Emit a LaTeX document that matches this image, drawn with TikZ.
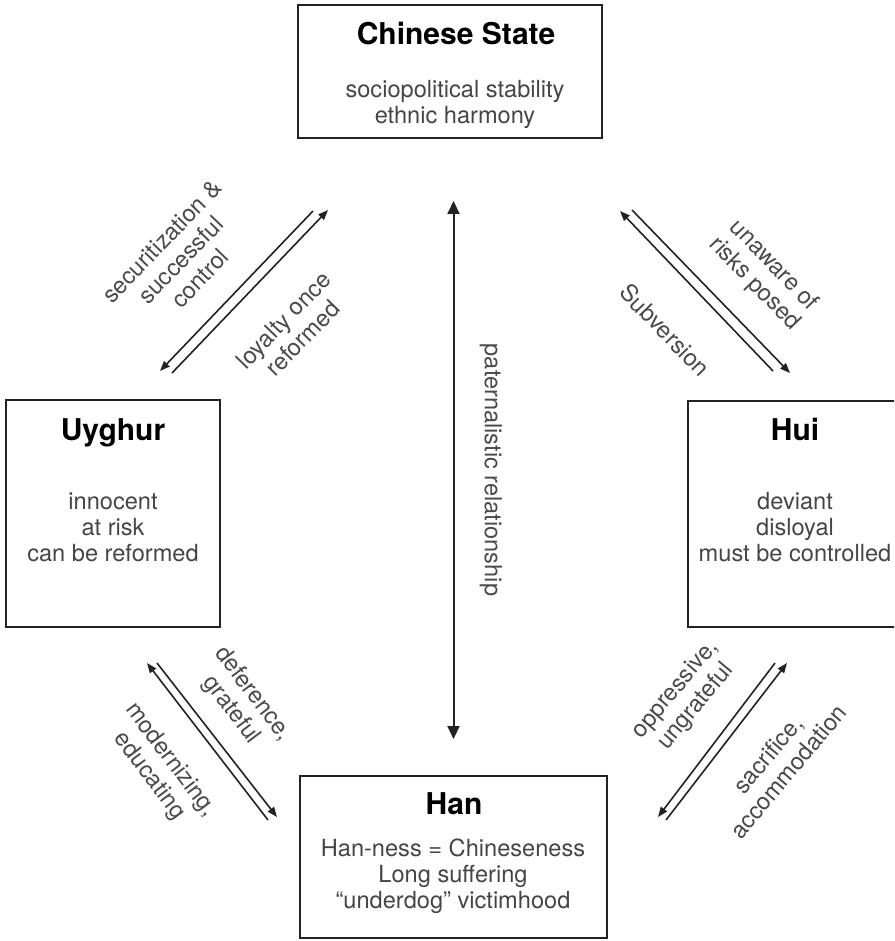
\documentclass[tikz,border=0pt]{standalone}
\usepackage{fontspec}
\setmainfont{TeX Gyre Heros}
\usetikzlibrary{arrows.meta}
\definecolor{ink}{HTML}{222222}
\definecolor{bodytxt}{HTML}{454545}
\definecolor{lbltxt}{HTML}{4a4a4a}
\begin{document}
\begin{tikzpicture}[x=0.5pt,y=-0.5pt,
  boxshape/.style={draw=ink, line width=1pt, inner sep=0pt},
  titletxt/.style={anchor=base, inner sep=0pt, text=black, font=\fontsize{15}{18}\selectfont\bfseries},
  bodyblock/.style={align=center, inner sep=0pt, text=bodytxt, font=\fontsize{11.8}{13}\selectfont},
  lbl/.style={align=center, inner sep=0pt, text=lbltxt, font=\fontsize{11.8}{13.3}\selectfont},
  diag/.style={draw=ink, line width=0.8pt, -{Triangle[length=5pt,width=3.8pt]}},
  vert/.style={draw=ink, line width=1pt, {Triangle[length=6.5pt,width=6pt]}-{Triangle[length=6.5pt,width=6pt]}}
]
\useasboundingbox (0,0) rectangle (894,941);
\clip (0,0) rectangle (894,941);

% boxes
\node[boxshape, minimum width=152pt, minimum height=66.5pt] (state) at (450,71.5) {};
\node[boxshape, minimum width=153.5pt, minimum height=81pt] (han) at (453.5,857) {};
\node[boxshape, minimum width=107pt, minimum height=113.5pt] (uyghur) at (113,513.5) {};
\node[boxshape, minimum width=107pt, minimum height=113pt] (hui) at (795,514) {};

% titles
\node[titletxt] (stateT) at (456,45) {Chinese State};
\node[titletxt] (uyghurT) at (113,440) {Uyghur};
\node[titletxt] (huiT) at (795,440) {Hui};
\node[titletxt] (hanT) at (454,814) {Han};

% bodies
\node[bodyblock] (stateB) at (455,104) {sociopolitical stability\\ethnic harmony};
\node[bodyblock] (uyghurB) at (113,527) {innocent\\at risk\\can be reformed};
\node[bodyblock] (huiB) at (795,527) {deviant\\disloyal\\must be controlled};
\node[bodyblock] (hanB) at (453,876) {Han-ness = Chineseness\\Long suffering\\“underdog” victimhood};

% vertical arrow
\draw[vert, shorten <=31pt, shorten >=18pt] (han.north |- state.south) -- (han.north);
\node[lbl, rotate=-90] (lblV) at (491,470) {paternalistic relationship};

% arrow end points
\coordinate (a1) at (313,211); \coordinate (a2) at (160,371);
\coordinate (b1) at (172,373); \coordinate (b2) at (328,210);
\coordinate (c1) at (773,371); \coordinate (c2) at (620,211);
\coordinate (d1) at (632,210); \coordinate (d2) at (790,373);
\coordinate (e1) at (268,820); \coordinate (e2) at (147,663);
\coordinate (f1) at (157,663); \coordinate (f2) at (277,817);
\coordinate (g1) at (775,663); \coordinate (g2) at (658,817);
\coordinate (h1) at (666,820); \coordinate (h2) at (787,663);

\draw[diag] (a1) -- (a2);
\draw[diag] (b1) -- (b2);
\draw[diag] (c1) -- (c2);
\draw[diag] (d1) -- (d2);
\draw[diag] (e1) -- (e2);
\draw[diag] (f1) -- (f2);
\draw[diag] (g1) -- (g2);
\draw[diag] (h1) -- (h2);

% labels
\node[lbl, rotate=46] (lblA) at (181,260) {securitization \&\\successful\\control};
\node[lbl, rotate=46] (lblB) at (293,329) {loyalty once\\reformed};
\node[lbl, rotate=-46] (lblC) at (665,330) {Subversion};
\node[lbl, rotate=-46] (lblD) at (764,275) {unaware of\\risks posed};
\node[lbl, rotate=-53] (lblE) at (160,768) {modernizing,\\educating};
\node[lbl, rotate=-53] (lblF) at (242,702) {deference,\\grateful};
\node[lbl, rotate=50] (lblG) at (686,698) {oppressive,\\ungrateful};
\node[lbl, rotate=50] (lblH) at (778,763) {sacrifice,\\accommodation};
\end{tikzpicture}
\end{document}
